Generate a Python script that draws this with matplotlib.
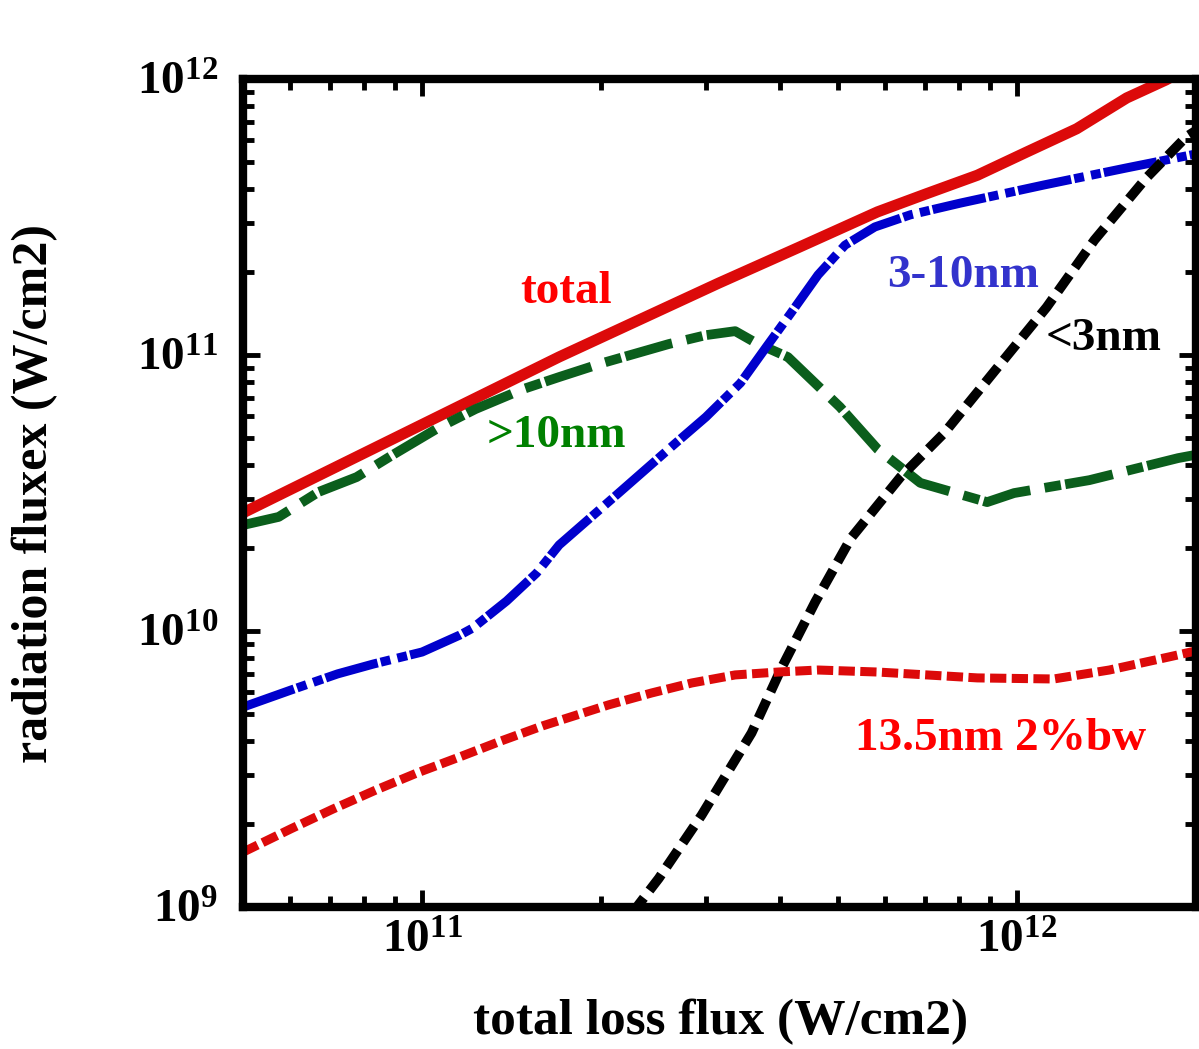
import matplotlib
matplotlib.use("Agg")
import matplotlib.pyplot as plt
from matplotlib.ticker import LogLocator, NullFormatter

plt.rcParams['font.family'] = 'Liberation Serif'
plt.rcParams['font.weight'] = 'bold'

# total radiation
total_x = [5.0e10, 1.70e11, 3.15e11, 4.29e11, 5.83e11, 7.07e11, 8.58e11, 1.039e12,
           1.26e12, 1.53e12, 1.78e12, 2.0e12]
total_y = [2.68e10, 9.84e10, 1.82e11, 2.45e11, 3.30e11, 3.85e11, 4.48e11, 5.44e11,
           6.60e11, 8.54e11, 9.92e11, 1.14e12]

# >10nm
long_x = [5.0e10, 5.74e10, 6.70e10, 7.76e10, 8.87e10, 1.064e11, 1.23e11, 1.48e11,
          1.70e11, 2.01e11, 2.60e11, 3.00e11, 3.36e11, 3.63e11, 4.12e11, 5.04e11,
          5.83e11, 6.88e11, 8.91e11, 9.89e11, 1.324e12, 1.866e12, 2.0e12]
long_y = [2.42e10, 2.59e10, 3.19e10, 3.61e10, 4.31e10, 5.44e10, 6.37e10, 7.53e10,
          8.32e10, 9.35e10, 1.096e11, 1.18e11, 1.22e11, 1.11e11, 9.83e10, 6.48e10,
          4.56e10, 3.44e10, 2.93e10, 3.16e10, 3.52e10, 4.23e10, 4.35e10]

# 3-10nm
mid_x = [5.0e10, 6.02e10, 7.21e10, 8.28e10, 1.0e11, 1.158e11, 1.217e11, 1.387e11,
         1.557e11, 1.70e11, 2.14e11, 2.67e11, 3.00e11, 3.43e11, 3.79e11, 4.17e11,
         4.63e11, 5.14e11, 5.77e11, 6.62e11, 8.03e11, 1.11e12, 1.527e12, 2.0e12]
mid_y = [5.3e9, 6.11e9, 6.99e9, 7.59e9, 8.39e9, 9.67e9, 1.025e10, 1.284e10,
         1.62e10, 2.05e10, 3.16e10, 4.80e10, 5.96e10, 7.92e10, 1.069e11, 1.42e11,
         1.95e11, 2.50e11, 2.91e11, 3.22e11, 3.55e11, 4.13e11, 4.76e11, 5.35e11]

# <3nm
short_x = [2.14e11, 2.31e11, 2.50e11, 2.95e11, 3.58e11, 4.02e11, 4.58e11, 5.26e11,
           6.37e11, 7.55e11, 9.26e11, 1.122e12, 1.35e12, 1.65e12, 1.925e12, 2.0e12]
short_y = [7.6e8, 1.017e9, 1.27e9, 2.15e9, 4.27e9, 7.34e9, 1.274e10, 2.17e10,
           3.61e10, 5.22e10, 8.97e10, 1.49e11, 2.61e11, 4.38e11, 6.17e11, 6.5e11]

# 13.5nm 2% bandwidth
euv_x = [5.0e10, 6.02e10, 7.07e10, 8.35e10, 9.81e10, 1.158e11, 1.36e11, 1.594e11,
         2.06e11, 2.43e11, 2.84e11, 3.36e11, 3.97e11, 4.63e11, 5.83e11, 8.58e11,
         1.153e12, 1.43e12, 1.80e12, 2.0e12]
euv_y = [1.58e9, 1.92e9, 2.26e9, 2.65e9, 3.06e9, 3.50e9, 4.00e9, 4.53e9,
         5.40e9, 5.96e9, 6.48e9, 6.93e9, 7.10e9, 7.22e9, 7.10e9, 6.76e9,
         6.70e9, 7.22e9, 8.05e9, 8.47e9]

fig = plt.figure(figsize=(11.99, 10.49), dpi=100)
ax = fig.add_axes([0.2027, 0.1354, 0.7948, 0.7893])

ax.plot(total_x, total_y, color='#dc0a0a', lw=8, solid_capstyle='butt')
ax.plot(long_x, long_y, color='#0b5e1c', lw=7, dashes=(5.0, 1.5, 1.7, 0.45))
ax.plot(mid_x, mid_y, color='#0000cc', lw=6.5, dashes=(6.0, 0.35, 1.1, 0.8, 1.1, 0.35))
ax.plot(short_x, short_y, color='black', lw=7, dashes=(2.05, 0.95))
ax.plot(euv_x, euv_y, color='#dc0a0a', lw=6.5, dashes=(1.8, 0.6))

ax.set_xscale('log')
ax.set_yscale('log')
ax.set_xlim(5e10, 2e12)
ax.set_ylim(1e9, 1e12)

for sp in ax.spines.values():
    sp.set_linewidth(6)
ax.xaxis.set_major_locator(LogLocator(base=10))
ax.yaxis.set_major_locator(LogLocator(base=10))
ax.xaxis.set_minor_locator(LogLocator(base=10, subs=range(2, 10)))
ax.yaxis.set_minor_locator(LogLocator(base=10, subs=range(2, 10)))
ax.xaxis.set_minor_formatter(NullFormatter())
ax.yaxis.set_minor_formatter(NullFormatter())
ax.tick_params(which='both', direction='in', top=True, right=True, labelsize=34)
ax.tick_params(which='major', length=12.5, width=3.5)
ax.tick_params(which='minor', length=8, width=3.5)
ax.tick_params(axis='y', pad=18)
ax.tick_params(axis='x', pad=10)

ax.text(0.2907, 0.7295, 'total', transform=ax.transAxes, color='#ff0000', fontsize=34)
ax.text(0.6757, 0.7488, '3-10nm', transform=ax.transAxes, color='#3333cc', fontsize=34)
ax.text(0.8426, 0.6727, '<3nm', transform=ax.transAxes, color='black', fontsize=34)
ax.text(0.256, 0.5556, '>10nm', transform=ax.transAxes, color='#008000', fontsize=34)
ax.text(0.6422, 0.1896, '13.5nm 2%bw', transform=ax.transAxes, color='#ff0000', fontsize=34)

fig.text(0.6013, 0.0257, 'total loss flux (W/cm2)', ha='center', va='center', fontsize=37)
fig.text(0.0292, 0.530, 'radiation fluxex (W/cm2)', ha='center', va='center',
         rotation=90, fontsize=36)

fig.savefig('out.png', dpi=100)
